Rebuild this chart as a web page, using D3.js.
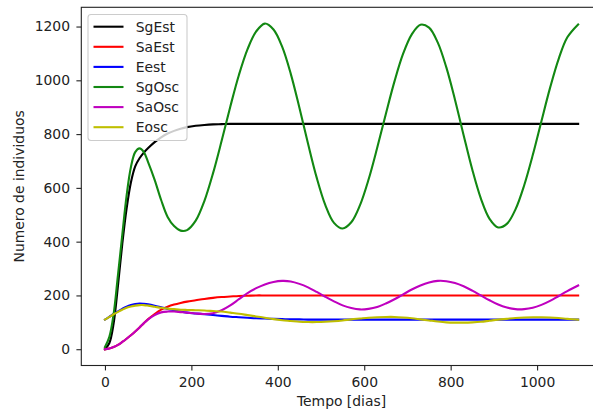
<!DOCTYPE html>
<html>
<head>
<meta charset="utf-8">
<script src="https://cdn.jsdelivr.net/npm/d3@7"></script>
<style>
  html, body { margin: 0; padding: 0; background: #fff; }
  svg { display: block; font-family: "DejaVu Sans", sans-serif; }
</style>
</head>
<body>
<svg id="chart" width="593" height="412"></svg>
<script>
// Simulation time grid (days)
const days = [0,10,20,30,40,50,60,70,80,90,100,115,130,145,160,175,
  190,210,230,250,270,290,310,330,350,370,390,410,430,450,470,490,510,530,550,
  570,590,610,630,650,670,690,710,730,750,770,790,810,830,850,870,890,910,
  930,950,970,990,1010,1030,1050,1070,1095];

// Stable scenario
const sgEst = [0,22,95,235,390,522,620,680,710,731,748,770,788,802,812,820,
  826,831,834,836,837,838,838,838,838,838,838,838,838,838,838,838,838,838,838,
  838,838,838,838,838,838,838,838,838,838,838,838,838,838,838,838,838,838,
  838,838,838,838,838,838,838,838,838];
const saEst = [0,3,8,16,27,39,52,66,81,97,112,131,147,158,166,172,
  177,182,187,191,194,196,198,199,200,200,200,200,200,200,200,200,200,200,200,
  200,200,200,200,200,200,200,200,200,200,200,200,200,200,200,200,200,200,
  200,200,200,200,200,200,200,200,200];
const eEst = [110,120,131,141,150,158,164,168,170,169,167,162,156,150,145,140,
  136,133,130,127,124,121,119,117,115,114,113,112,111,111,110,110,110,110,110,
  110,110,110,110,110,110,110,110,110,110,110,110,110,110,110,110,110,110,
  110,110,110,110,110,110,110,110,110];

// Oscillating scenario
const sgOsc = [8,45,130,275,424,570,677,733,747,733,695,630,555,492,458,441,
  443,478,551,654,775,902,1020,1116,1182,1211,1189,1125,1024,898,764,638,536,470,449,
  472,535,631,749,875,996,1099,1171,1207,1196,1141,1048,928,796,668,560,485,453,
  466,520,609,722,848,972,1080,1160,1208];
const saOsc = [0,3,8,16,27,39,52,66,81,97,111,127,137,140,140,138,
  136,133,131,134,145,163,186,209,227,241,250,254,252,243,230,213,195,178,163,
  153,148,150,157,170,186,204,222,237,248,254,253,246,234,218,200,182,166,
  155,149,149,154,165,180,198,216,237];
const eOsc = [110,120,130,139,147,154,159,162,164,164,162,158,154,151,149,147,
  146,145,144,142,140,136,132,127,122,117,112,108,105,102,101,101,102,104,107,
  111,114,117,119,120,120,118,115,111,107,103,100,99,99,100,102,106,110,
  113,116,118,119,119,118,116,113,110];

const seriesNames = ["SgEst","SaEst","Eest","SgOsc","SaOsc","Eosc"];
const seriesValues = [sgEst, saEst, eEst, sgOsc, saOsc, eOsc];
const seriesColors = ["#000000","#ff0000","#0000ff","#128812","#bf00bf","#bfbf00"];

const xTicks = [0,200,400,600,800,1000];
const yTicks = [0,200,400,600,800,1000,1200];
const xTitle = "Tempo [dias]";
const yTitle = "Numero de individuos";

// Layout
const area = { left: 81.3, right: 601.8, top: 7.3, bottom: 365.5 };
const fontSize = 13.9;
const ink = "#222";

const svg = d3.select("#chart");

// Scales with 5% margins on each side of the data range
const xExt = d3.extent(days);
const xPad = (xExt[1] - xExt[0]) * 0.05;
const x = d3.scaleLinear().domain([xExt[0] - xPad, xExt[1] + xPad]).range([area.left, area.right]);

const allVals = seriesValues.flat();
const yExt = d3.extent(allVals);
const yPad = (yExt[1] - yExt[0]) * 0.05;
const y = d3.scaleLinear().domain([yExt[0] - yPad, yExt[1] + yPad]).range([area.bottom, area.top]);

// Clip to the plotting area
svg.append("defs").append("clipPath").attr("id", "plot-clip")
  .append("rect")
  .attr("x", area.left).attr("y", area.top)
  .attr("width", area.right - area.left).attr("height", area.bottom - area.top);

// Series lines
const line = d3.line()
  .x((d, i) => x(days[i]))
  .y(d => y(d))
  .curve(d3.curveCatmullRom.alpha(0.5));

const lines = svg.append("g").attr("clip-path", "url(#plot-clip)");
seriesValues.forEach((vals, k) => {
  lines.append("path")
    .datum(vals)
    .attr("fill", "none")
    .attr("stroke", seriesColors[k])
    .attr("stroke-width", 2.1)
    .attr("stroke-linejoin", "round")
    .attr("stroke-linecap", "square")
    .attr("d", line);
});

// Axes
const xAxis = d3.axisBottom(x).tickValues(xTicks).tickSize(4.9).tickPadding(6.7).tickFormat(d3.format("d"));
const yAxis = d3.axisLeft(y).tickValues(yTicks).tickSize(4.9).tickPadding(6.4).tickFormat(d3.format("d"));

const gx = svg.append("g").attr("transform", `translate(0,${area.bottom})`).call(xAxis);
const gy = svg.append("g").attr("transform", `translate(${area.left},0)`).call(yAxis);

[gx, gy].forEach(g => {
  g.select(".domain").remove();
  g.selectAll(".tick line").attr("stroke", ink).attr("stroke-width", 1.1);
  g.selectAll(".tick text")
    .attr("fill", ink)
    .style("font-size", fontSize + "px")
    .style("font-family", "DejaVu Sans, sans-serif");
});

// Frame (spines)
svg.append("rect")
  .attr("x", area.left).attr("y", area.top)
  .attr("width", area.right - area.left).attr("height", area.bottom - area.top)
  .attr("fill", "none").attr("stroke", ink).attr("stroke-width", 1.1);

// Axis titles
svg.append("text")
  .attr("x", (area.left + area.right) / 2)
  .attr("y", 406)
  .attr("text-anchor", "middle")
  .attr("fill", ink)
  .style("font-size", fontSize + "px")
  .text(xTitle);

svg.append("text")
  .attr("transform", `translate(24,${(area.top + area.bottom) / 2}) rotate(-90)`)
  .attr("text-anchor", "middle")
  .attr("fill", ink)
  .style("font-size", fontSize + "px")
  .text(yTitle);

// Legend
const legend = svg.append("g");
legend.append("rect")
  .attr("x", 88).attr("y", 14.5)
  .attr("width", 99).attr("height", 126)
  .attr("rx", 3).attr("ry", 3)
  .attr("fill", "#fff").attr("fill-opacity", 0.8)
  .attr("stroke", "#ccc").attr("stroke-width", 1.1);

seriesNames.forEach((name, k) => {
  const cy = 26.7 + k * 20.1;
  legend.append("line")
    .attr("x1", 93.5).attr("x2", 123.5)
    .attr("y1", cy).attr("y2", cy)
    .attr("stroke", seriesColors[k]).attr("stroke-width", 2.1);
  legend.append("text")
    .attr("x", 135.8).attr("y", cy + 5)
    .attr("fill", ink)
    .style("font-size", fontSize + "px")
    .text(name);
});
</script>
</body>
</html>
